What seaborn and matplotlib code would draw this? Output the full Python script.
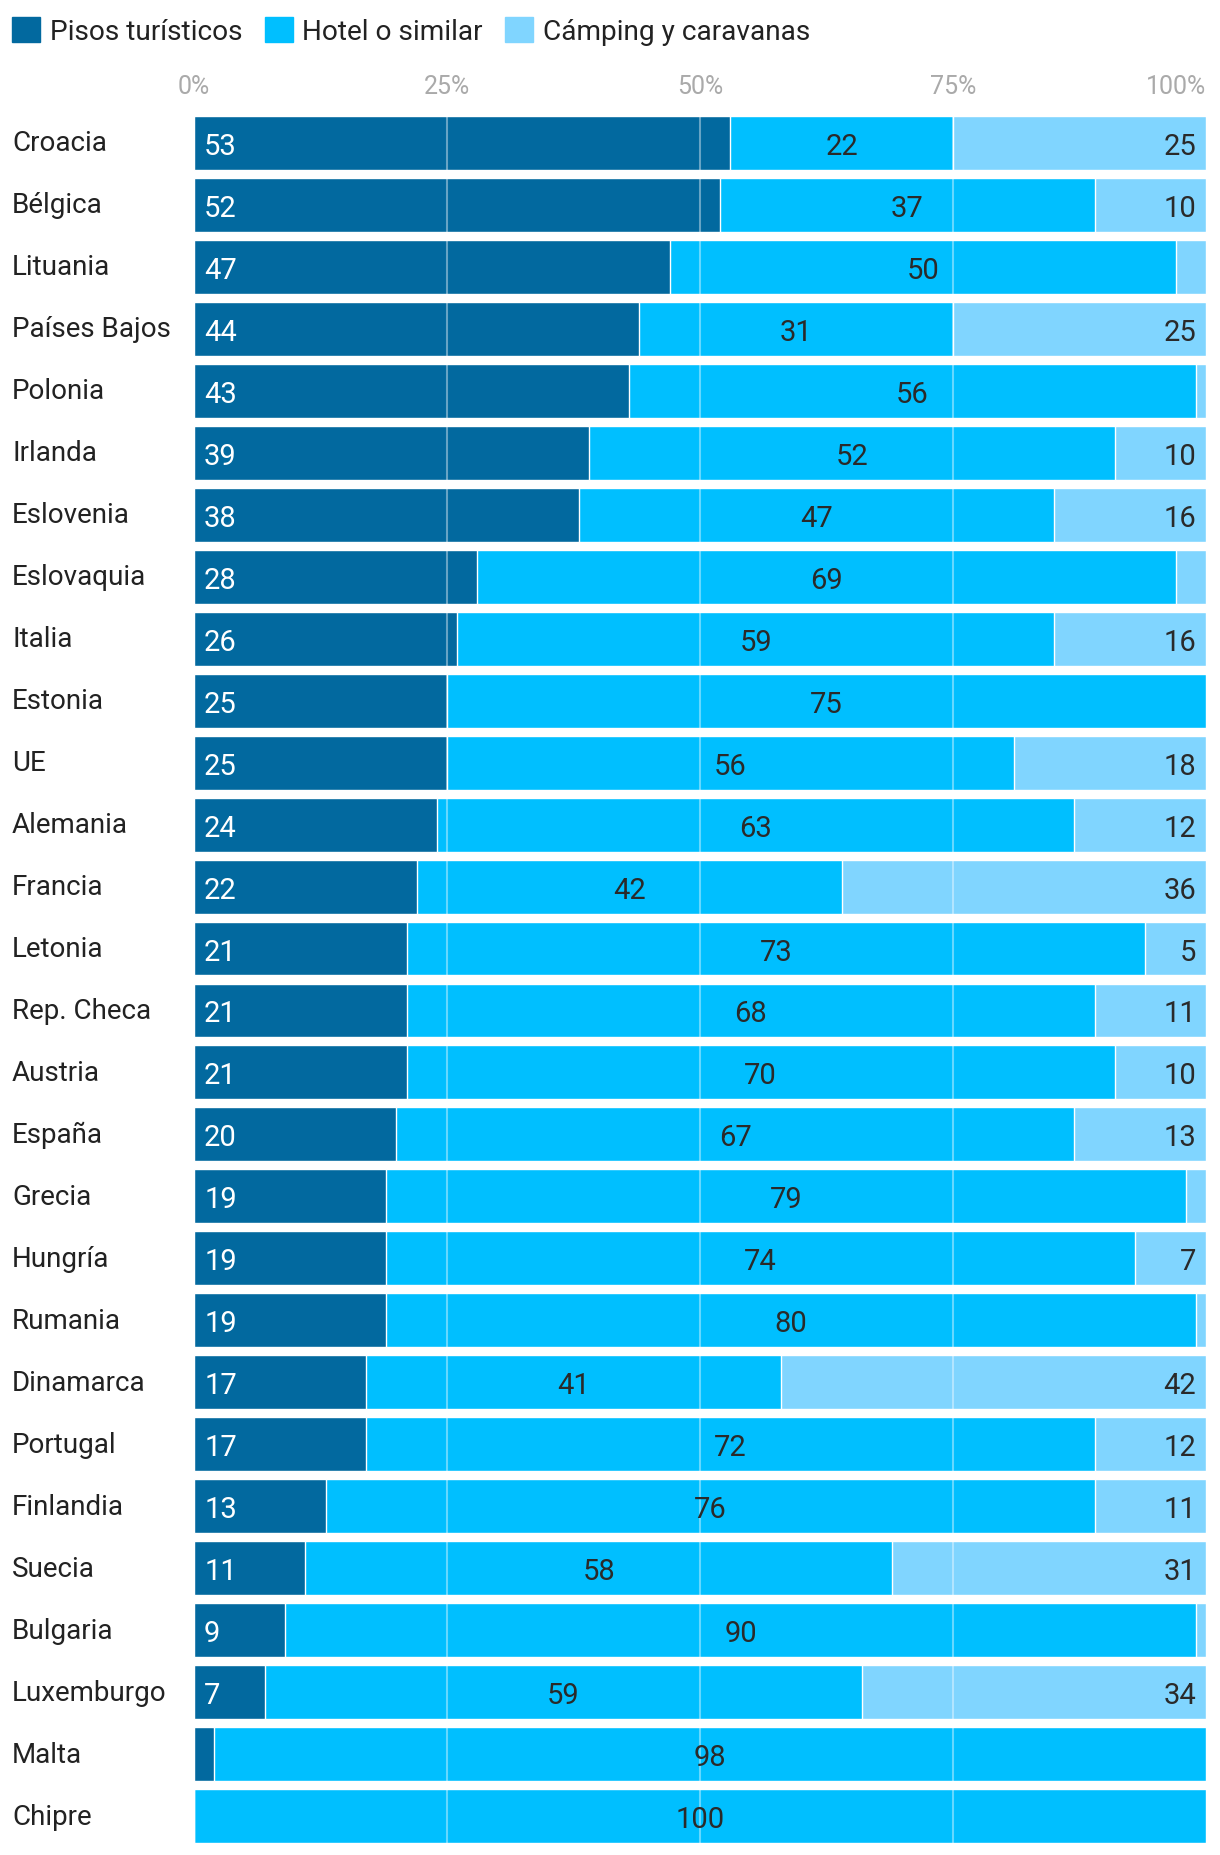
import pandas as pd
import seaborn as sns
import matplotlib.pyplot as plt
from matplotlib.patches import Patch

# -----------------------------
# Data (share of tourist nights, %)
# -----------------------------
countries = ["Croacia", "Bélgica", "Lituania", "Países Bajos", "Polonia", "Irlanda",
             "Eslovenia", "Eslovaquia", "Italia", "Estonia", "UE", "Alemania",
             "Francia", "Letonia", "Rep. Checa", "Austria", "España", "Grecia",
             "Hungría", "Rumania", "Dinamarca", "Portugal", "Finlandia", "Suecia",
             "Bulgaria", "Luxemburgo", "Malta", "Chipre"]
pisos = [53, 52, 47, 44, 43, 39, 38, 28, 26, 25, 25, 24, 22, 21, 21, 21, 20, 19,
         19, 19, 17, 17, 13, 11, 9, 7, 2, 0]
hotel = [22, 37, 50, 31, 56, 52, 47, 69, 59, 75, 56, 63, 42, 73, 68, 70, 67, 79,
         74, 80, 41, 72, 76, 58, 90, 59, 98, 100]
camping = [25, 10, 3, 25, 1, 10, 16, 3, 16, 0, 18, 12, 36, 5, 11, 10, 13, 2,
           7, 1, 42, 12, 11, 31, 1, 34, 0, 0]
series = ["Pisos turísticos", "Hotel o similar", "Cámping y caravanas"]

C_PISOS = "#02699f"
C_HOTEL = "#00bfff"
C_CAMP = "#80d5ff"

df = pd.DataFrame({"pais": countries, "pisos": pisos, "hotel": hotel, "camping": camping})
df["c_hotel"] = df["pisos"] + df["hotel"]
# shares are of the total, so the stacked bar always fills 100%
df["c_total"] = 100

# -----------------------------
# Plot
# -----------------------------
sns.set_theme(style="white")
plt.rcParams["font.family"] = ["Roboto", "DejaVu Sans"]

fig = plt.figure(figsize=(12.2, 18.56), dpi=100)
ax = fig.add_axes([194 / 1220, 1 - 1848 / 1856, 1012 / 1220, (1848 - 113) / 1856])

W = 0.87
sns.barplot(data=df, x="c_total", y="pais", color=C_CAMP, width=W, saturation=1,
            orient="h", ax=ax)
sns.barplot(data=df, x="c_hotel", y="pais", color=C_HOTEL, width=W, saturation=1,
            orient="h", ax=ax)
sns.barplot(data=df, x="pisos", y="pais", color=C_PISOS, width=W, saturation=1,
            orient="h", ax=ax)

ax.set_xlim(0, 100)
ax.set_ylim(len(countries) - 0.5, -0.5)

# gridlines on top of bars
for g in [0, 25, 50, 75]:
    ax.axvline(g, color="white", alpha=0.4, lw=1.5, zorder=5)

# value labels
for i, row in df.iterrows():
    if row["pisos"] >= 5:
        ax.text(1.0, i, str(row["pisos"]), color="white",
                fontsize=21, ha="left", va="center_baseline", zorder=6)
    if row["hotel"] >= 5:
        ax.text(row["pisos"] + row["hotel"] / 2, i, str(row["hotel"]), color="#2a2a2a",
                fontsize=21, ha="center", va="center_baseline", zorder=6)
    if row["camping"] >= 5:
        ax.text(99.0, i, str(row["camping"]), color="#2a2a2a",
                fontsize=21, ha="right", va="center_baseline", zorder=6)

# axes styling
ax.set_xlabel("")
ax.set_ylabel("")
for s in ax.spines.values():
    s.set_visible(False)
ax.xaxis.tick_top()
ax.set_xticks([0, 25, 50, 75, 100])
ax.set_xticklabels(["0%", "25%", "50%", "75%", "100%"], color="#aaaaaa", fontsize=18)
ax.get_xticklabels()[-1].set_ha("right")
ax.tick_params(axis="x", length=0, pad=10)
ax.tick_params(axis="y", length=0, pad=131, labelsize=20, labelcolor="#222222")
for lab in ax.get_yticklabels():
    lab.set_ha("left")
    lab.set_va("center")

# legend
handles = [Patch(color=c) for c in [C_PISOS, C_HOTEL, C_CAMP]]
fig.legend(handles, series, loc="center left", bbox_to_anchor=(0.005, 1 - 32 / 1856),
           ncol=3, frameon=False, fontsize=20.2, handlelength=1.0, handleheight=1.0,
           handletextpad=0.35, columnspacing=0.8, borderaxespad=0, borderpad=0.2,
           labelcolor="#222222")

plt.savefig("out.png", dpi=100)
plt.close()
